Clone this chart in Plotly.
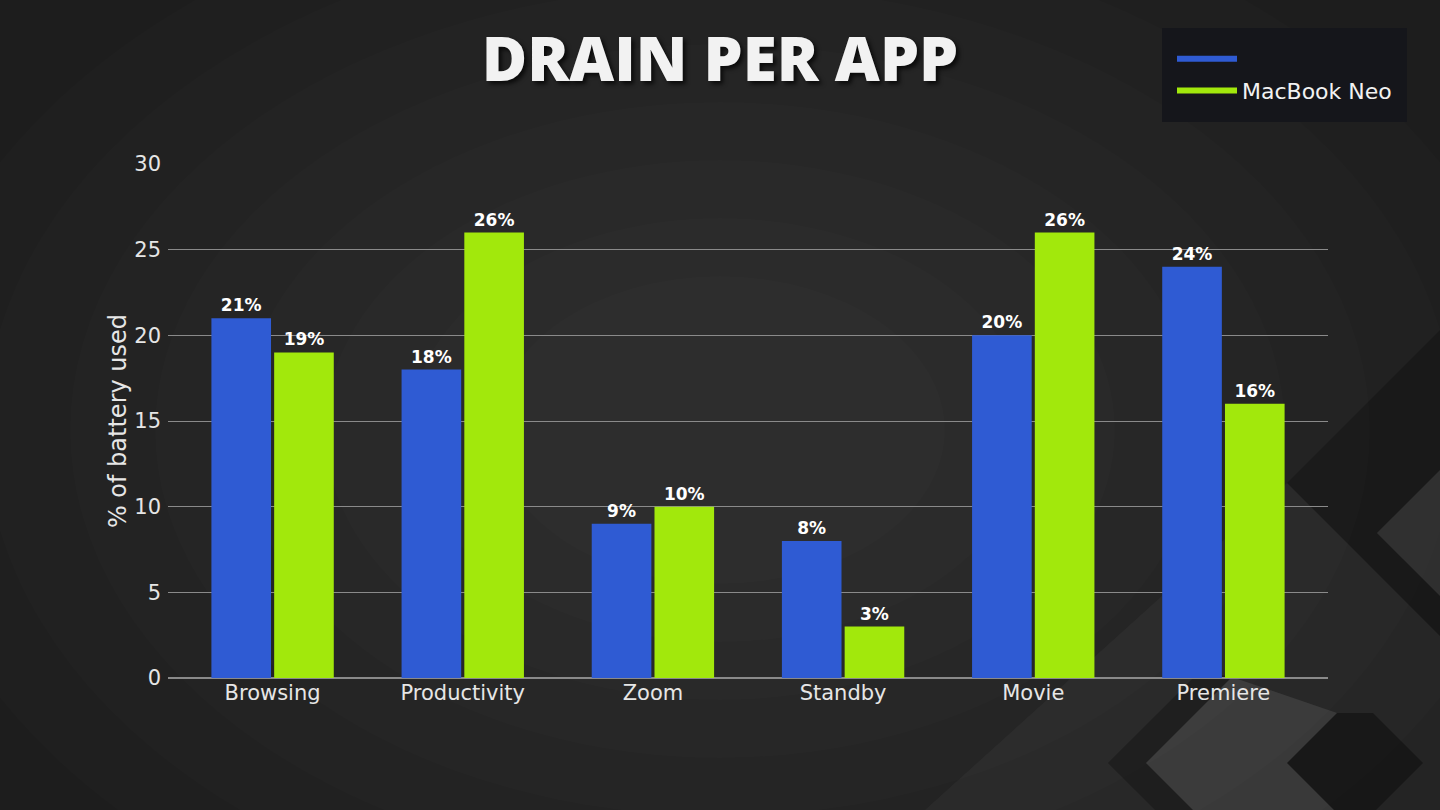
import plotly.graph_objects as go

# Data
apps = ["Browsing", "Productivity", "Zoom", "Standby", "Movie", "Premiere"]
first_laptop = [21, 18, 9, 8, 20, 24]
macbook_neo = [19, 26, 10, 3, 26, 16]
series_names = [" ", "MacBook Neo"]
colors = ["#2f5bd3", "#a2e80c"]

W, H = 1440, 810
plot_l, plot_r, plot_t, plot_b = 168, 1328, 164, 678

fig = go.Figure()

for name, values, color in zip(series_names, [first_laptop, macbook_neo], colors):
    fig.add_trace(go.Bar(
        x=apps,
        y=values,
        name=name,
        marker=dict(color=color, line=dict(width=0)),
        texttemplate="%{y}%",
        textposition="outside",
        textfont=dict(family="DejaVu Sans", size=17, color="white", weight="bold"),
        cliponaxis=False,
        showlegend=False,
    ))
    # line-style legend entry
    fig.add_trace(go.Scatter(
        x=[None], y=[None],
        mode="lines",
        name=name,
        line=dict(color=color, width=6),
    ))


def px_to_paper(path):
    out = []
    for tok in path.split():
        if "," in tok:
            px, py = map(float, tok.split(","))
            dx = (px - plot_l) / (plot_r - plot_l)
            dy = (plot_b - py) / (plot_b - plot_t)
            out.append(f"{dx:.4f},{dy:.4f}")
        else:
            out.append(tok)
    return " ".join(out)


shapes = []
# soft radial glow in the middle of the background
for i in range(8):
    rx, ry = 820 - i * 85, 560 - i * 58
    cx, cy = 720, 430
    x0, x1 = (cx - rx - plot_l) / (plot_r - plot_l), (cx + rx - plot_l) / (plot_r - plot_l)
    y0, y1 = (plot_b - (cy + ry)) / (plot_b - plot_t), (plot_b - (cy - ry)) / (plot_b - plot_t)
    shapes.append(dict(type="circle", xref="paper", yref="paper", x0=x0, x1=x1, y0=y0, y1=y1,
                       fillcolor="rgba(255,255,255,0.011)", line=dict(width=0), layer="below"))

# decorative chevrons in the lower right corner
deco = [
    ("M 925,810 L 1287,483 L 1440,636 L 1440,810 Z", "rgba(255,255,255,0.035)"),
    ("M 1287,483 L 1440,636 L 1440,330 Z", "rgba(0,0,0,0.22)"),
    ("M 1377,533 L 1440,470 L 1440,596 Z", "rgba(255,255,255,0.10)"),
    ("M 1108,763 L 1200,671 L 1232,677 L 1146,763 L 1193,810 L 1155,810 Z", "rgba(0,0,0,0.25)"),
    ("M 1146,763 L 1232,677 L 1337,713 L 1287,763 L 1334,810 L 1193,810 Z", "rgba(255,255,255,0.09)"),
    ("M 1287,763 L 1337,713 L 1373,713 L 1423,763 L 1376,810 L 1334,810 Z", "rgba(0,0,0,0.35)"),
]
for path, fill in deco:
    shapes.append(dict(type="path", path=px_to_paper(path), xref="paper", yref="paper",
                       fillcolor=fill, line=dict(width=0), layer="below"))

fig.update_layout(
    width=W,
    height=H,
    paper_bgcolor="#1d1d1d",
    plot_bgcolor="rgba(0,0,0,0)",
    font=dict(family="DejaVu Sans", color="#e6e6e6"),
    title=dict(
        text="DRAIN PER APP",
        x=0.5, xanchor="center",
        y=0.927, yanchor="middle",
        font=dict(family="Open Sans", size=62, color="#f2f2f2", weight=800,
                  shadow="3px 3px 4px rgba(0,0,0,0.7)"),
    ),
    barmode="group",
    bargap=0.34,
    bargroupgap=0.05,
    margin=dict(l=plot_l, r=W - plot_r, t=plot_t, b=H - plot_b),
    xaxis=dict(
        range=[-0.55, 5.55],
        showgrid=False,
        showline=False,
        ticks="",
        tickfont=dict(size=21, color="#e6e6e6"),
        fixedrange=True,
    ),
    yaxis=dict(
        range=[0, 30],
        dtick=5,
        showgrid=True,
        gridcolor="#8a8a8a",
        gridwidth=1,
        zeroline=True,
        zerolinecolor="#8a8a8a",
        tickfont=dict(size=21, color="#e6e6e6"),
        ticks="",
        ticklabelstandoff=6,
        title=dict(text="% of battery used", font=dict(size=24, color="#e6e6e6"), standoff=0),
    ),
    legend=dict(
        x=(1162 - plot_l) / (plot_r - plot_l), xanchor="left",
        y=(plot_b - 28) / (plot_b - plot_t), yanchor="top",
        bgcolor="#15161b",
        bordercolor="#15161b",
        borderwidth=10,
        font=dict(size=22, color="#f2f2f2"),
        itemwidth=60,
        tracegroupgap=10,
    ),
    shapes=shapes,
)

fig.write_html("out.html", config={"displayModeBar": False},
               post_script="document.body.style.margin='0';")
